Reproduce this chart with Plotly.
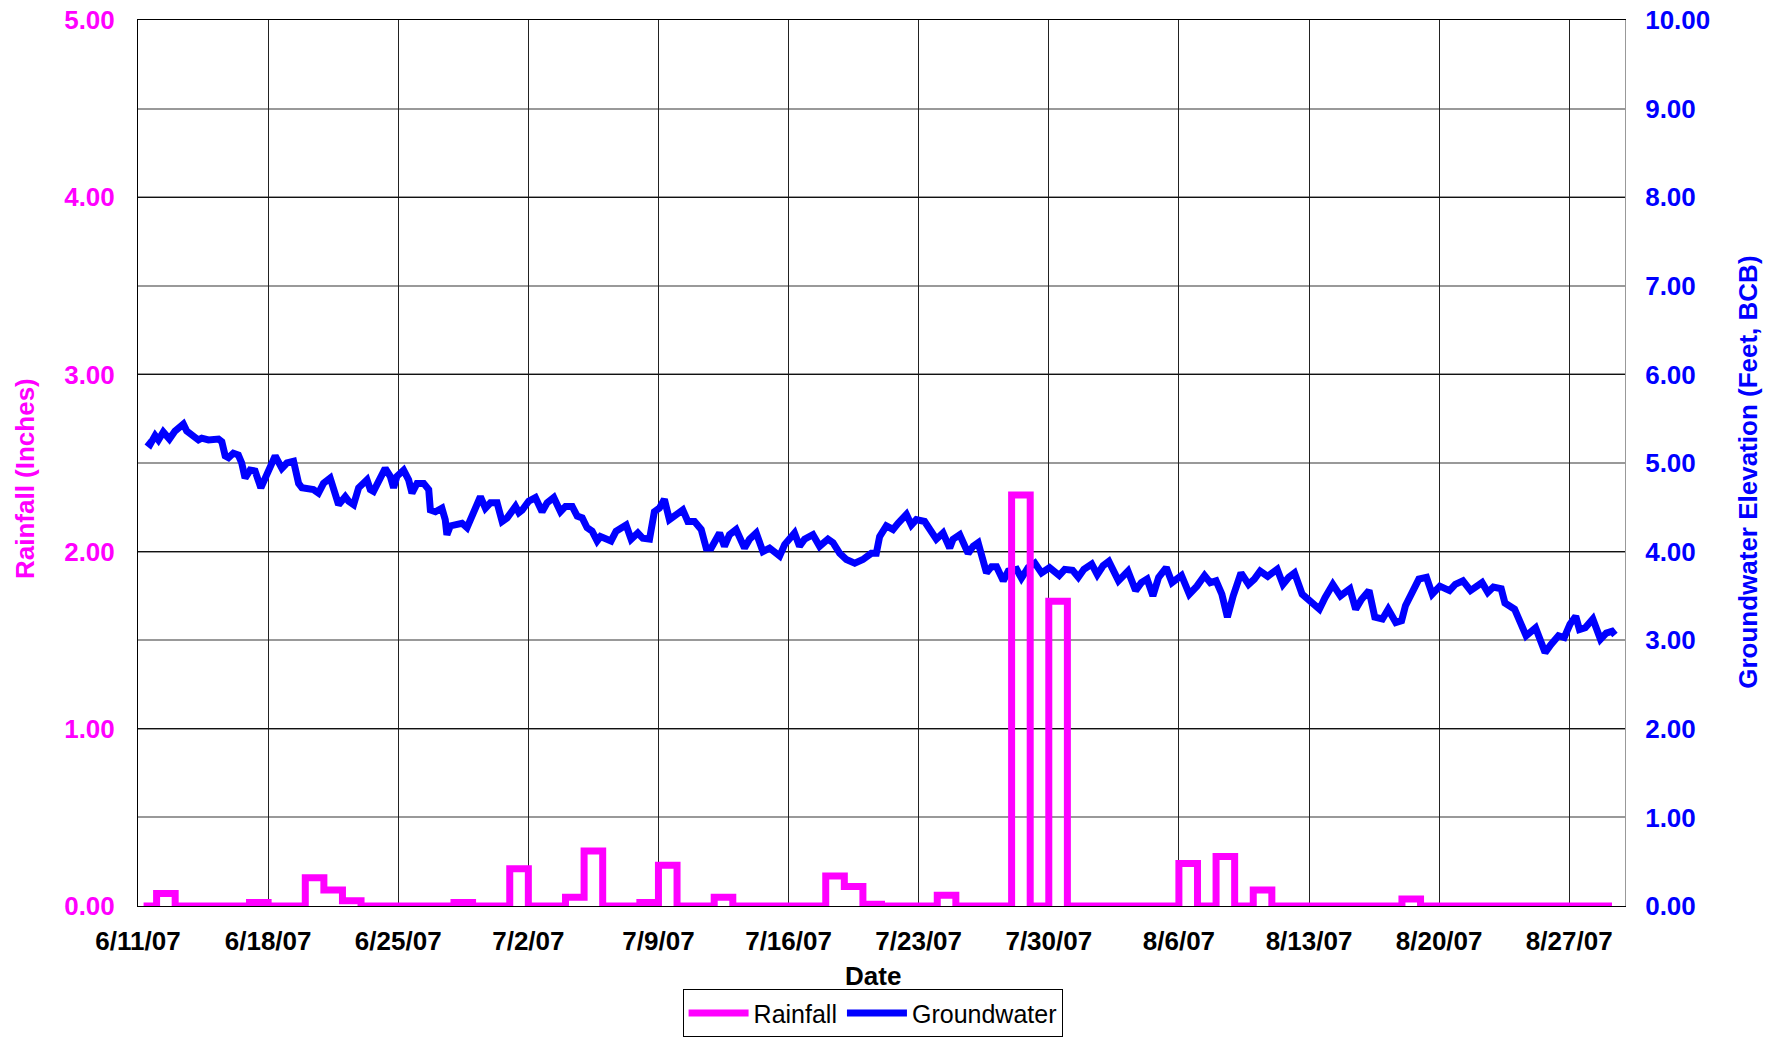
import pandas as pd
import plotly.graph_objects as go

start = pd.Timestamp("2007-06-11")

# Daily rainfall (inches), 6/11/07 .. 8/29/07
rain_in = [
    0.00, 0.07, 0.00, 0.00, 0.00, 0.00, 0.02, 0.00, 0.00, 0.16,
    0.09, 0.03, 0.00, 0.00, 0.00, 0.00, 0.00, 0.02, 0.00, 0.00,
    0.21, 0.00, 0.00, 0.05, 0.31, 0.00, 0.00, 0.02, 0.23, 0.00,
    0.00, 0.05, 0.00, 0.00, 0.00, 0.00, 0.00, 0.17, 0.11, 0.01,
    0.00, 0.00, 0.00, 0.06, 0.00, 0.00, 0.00, 2.32, 0.00, 1.72,
    0.00, 0.00, 0.00, 0.00, 0.00, 0.00, 0.24, 0.00, 0.28, 0.00,
    0.09, 0.00, 0.00, 0.00, 0.00, 0.00, 0.00, 0.00, 0.04, 0.00,
    0.00, 0.00, 0.00, 0.00, 0.00, 0.00, 0.00, 0.00, 0.00, 0.00,
]
rain_first_reading_days = 0.3
rain_last_reading_days = 79.3

# Groundwater elevation (feet, BCB): elapsed days since 6/11/07 and reading
gw_day = [
    0.47, 0.65, 0.92, 1.10, 1.36, 1.69, 1.99, 2.44, 2.62, 3.25, 3.43, 3.79, 4.33, 4.51,
    4.69, 4.87, 5.13, 5.40, 5.58, 5.76, 6.03, 6.30, 6.61, 7.02, 7.38, 7.74, 8.01, 8.37,
    8.64, 8.82, 9.17, 9.44, 9.71, 9.98, 10.34, 10.52, 10.79, 11.15, 11.33, 11.60, 11.87,
    12.32, 12.50, 12.67, 12.94, 13.30, 13.57, 13.75, 13.93, 14.29, 14.56, 14.74, 15.01,
    15.37, 15.64, 15.73, 16.00, 16.35, 16.53, 16.62, 16.80, 17.25, 17.43, 17.70, 17.88,
    18.24, 18.42, 18.69, 18.96, 19.32, 19.59, 19.86, 20.04, 20.31, 20.49, 20.67, 21.02,
    21.38, 21.74, 22.01, 22.37, 22.73, 23.00, 23.36, 23.63, 23.90, 24.16, 24.43, 24.70,
    24.88, 25.45, 25.72, 26.26, 26.53, 26.89, 27.16, 27.52, 27.78, 28.05, 28.32, 28.59,
    28.95, 29.31, 29.58, 29.94, 30.30, 30.57, 30.84, 31.02, 31.29, 31.55, 31.82, 32.18,
    32.63, 32.90, 33.26, 33.62, 33.98, 34.52, 34.79, 35.32, 35.59, 35.86, 36.31, 36.67,
    37.12, 37.39, 37.75, 38.11, 38.56, 39.00, 39.45, 39.72, 39.90, 40.26, 40.62, 40.89,
    41.34, 41.61, 41.87, 42.32, 42.69, 42.95, 43.31, 43.67, 43.85, 44.21, 44.66, 44.93,
    45.20, 45.47, 45.65, 45.92, 46.19, 46.55, 46.82, 47.27, 47.53, 47.89, 48.25, 48.61,
    49.04, 49.56, 49.86, 50.28, 50.59, 50.89, 51.31, 51.61, 51.92, 52.23, 52.54, 52.75,
    53.26, 53.67, 53.98, 54.29, 54.60, 54.91, 55.32, 55.63, 56.14, 56.56, 56.97, 57.38,
    57.69, 58.00, 58.31, 58.61, 58.92, 59.34, 59.75, 60.06, 60.37, 60.78, 61.29, 61.60,
    61.91, 62.22, 62.63, 63.14, 63.56, 63.86, 64.28, 64.69, 65.20, 65.51, 65.82, 66.23,
    66.54, 66.95, 67.26, 67.67, 67.98, 68.19, 68.50, 68.91, 69.32, 69.63, 70.04, 70.56,
    70.87, 71.28, 71.69, 72.31, 72.62, 72.92, 73.34, 73.54, 74.06, 74.37, 74.68, 75.19,
    75.39, 75.70, 76.01, 76.42, 76.73, 77.04, 77.35, 77.55, 77.86, 78.27, 78.68, 78.99,
    79.30, 79.46,
]
gw_ft = [
    5.24, 5.21, 5.31, 5.26, 5.35, 5.27, 5.36, 5.44, 5.36, 5.26, 5.28, 5.26, 5.27, 5.24,
    5.08, 5.06, 5.11, 5.09, 5.00, 4.83, 4.92, 4.91, 4.72, 4.92, 5.08, 4.94, 5.00, 5.02,
    4.77, 4.72, 4.70, 4.70, 4.66, 4.77, 4.83, 4.70, 4.53, 4.62, 4.57, 4.53, 4.72,
    4.81, 4.70, 4.68, 4.79, 4.94, 4.85, 4.72, 4.85, 4.92, 4.81, 4.66, 4.77,
    4.77, 4.70, 4.47, 4.45, 4.49, 4.36, 4.19, 4.29, 4.32, 4.32, 4.27, 4.36,
    4.57, 4.62, 4.49, 4.55, 4.55, 4.34, 4.38, 4.44, 4.51, 4.44, 4.47, 4.57,
    4.61, 4.45, 4.55, 4.61, 4.45, 4.51, 4.51, 4.40, 4.38, 4.27, 4.23, 4.12,
    4.17, 4.12, 4.23, 4.30, 4.14, 4.21, 4.15, 4.14, 4.45, 4.49, 4.59, 4.36,
    4.42, 4.47, 4.34, 4.34, 4.25, 4.04, 4.04, 4.10, 4.21, 4.06, 4.19, 4.25,
    4.04, 4.14, 4.21, 4.00, 4.04, 3.95, 4.08, 4.21, 4.06, 4.14, 4.19, 4.06,
    4.14, 4.10, 3.98, 3.91, 3.87, 3.91, 3.98, 3.98, 4.17, 4.29, 4.25, 4.32,
    4.42, 4.30, 4.36, 4.34, 4.21, 4.14, 4.21, 4.04, 4.14, 4.19, 3.98, 4.06,
    4.10, 3.87, 3.76, 3.83, 3.83, 3.67, 3.78, 3.80, 3.70, 3.82, 3.87, 3.76,
    3.82, 3.73, 3.80, 3.79, 3.71, 3.80, 3.86, 3.74, 3.84, 3.89, 3.76, 3.67,
    3.78, 3.56, 3.65, 3.69, 3.50, 3.71, 3.82, 3.65, 3.73, 3.52, 3.61, 3.73,
    3.65, 3.67, 3.52, 3.26, 3.50, 3.76, 3.63, 3.69, 3.78, 3.72, 3.80, 3.63,
    3.71, 3.76, 3.52, 3.44, 3.35, 3.48, 3.63, 3.50, 3.58, 3.35, 3.46, 3.56,
    3.26, 3.24, 3.35, 3.20, 3.22, 3.39, 3.54, 3.69, 3.71, 3.52, 3.61, 3.56,
    3.63, 3.67, 3.56, 3.65, 3.54, 3.60, 3.58, 3.42, 3.35, 3.20, 3.05, 3.14,
    3.01, 2.86, 2.95, 3.05, 3.03, 3.18, 3.27, 3.12, 3.14, 3.24, 3.01, 3.08,
    3.10, 3.06,
]

rain_ticks = [0, 1, 2, 3, 4, 5]
gw_ticks = [0, 1, 2, 3, 4, 5, 6, 7, 8, 9, 10]
x_range = ["2007-06-11", "2007-08-30"]

# build series (step line: one level per day)
rain_x = list(pd.date_range(start, periods=len(rain_in), freq="D"))
rain_x[0] = start + pd.to_timedelta(rain_first_reading_days, unit="D")
rain_y = list(rain_in)
rain_x.append(start + pd.to_timedelta(rain_last_reading_days, unit="D"))
rain_y.append(rain_in[-1])
gw_x = start + pd.to_timedelta(gw_day, unit="D")

FONT = "Liberation Sans, Arial, sans-serif"
MAG = "#FF00FF"
BLUE = "#0000FF"

fig = go.Figure()
fig.add_trace(go.Scatter(
    x=rain_x, y=rain_y, name="Rainfall", mode="lines", yaxis="y2",
    line=dict(color=MAG, width=7, shape="hv"),
))
fig.add_trace(go.Scatter(
    x=gw_x, y=gw_ft, name="Groundwater", mode="lines", yaxis="y",
    line=dict(color=BLUE, width=7),
))

fig.update_layout(
    width=1783, height=1037,
    margin=dict(l=138, r=158, t=20, b=131, autoexpand=False),
    paper_bgcolor="white", plot_bgcolor="white",
    font=dict(family=FONT, size=26, color="black"),
    showlegend=True,
    legend=dict(
        orientation="h", x=0.494, xanchor="center", y=-0.094, yanchor="top",
        bordercolor="black", borderwidth=1,
        font=dict(family=FONT, size=25, color="black"),
        itemwidth=60, tracegroupgap=0,
    ),
    xaxis=dict(
        type="date", range=x_range, tick0="2007-06-11", dtick=7 * 86400000,
        tickformat="%-m/%-d/%y", showgrid=True, gridcolor="#222222", gridwidth=1,
        showline=True, mirror=True, linecolor="black", linewidth=1,
        ticks="", ticklabelstandoff=12, zeroline=False, automargin=False,
        ticklabeloverflow="allow",
        tickfont=dict(family=FONT, size=26, color="black", weight="bold"),
    ),
    yaxis=dict(
        side="right", range=[0, 10], tickvals=gw_ticks, tickformat=".2f",
        showgrid=False, zeroline=False, showline=True, linecolor="#999999", linewidth=1,
        ticks="", ticklabelstandoff=14, automargin=False, ticklabeloverflow="allow",
        tickfont=dict(family=FONT, size=26, color=BLUE, weight="bold"),
    ),
    yaxis2=dict(
        side="left", overlaying="y", range=[0, 5], tickvals=rain_ticks, tickformat=".2f",
        showgrid=True, gridcolor="#111111", gridwidth=1, zeroline=False,
        minor=dict(dtick=0.5, showgrid=True, gridcolor="#999999", gridwidth=1.5),
        showline=True, linecolor="black", linewidth=1,
        ticks="", ticklabelstandoff=17, automargin=False, ticklabeloverflow="allow",
        tickfont=dict(family=FONT, size=26, color=MAG, weight="bold"),
    ),
    annotations=[
        dict(text="<b>Rainfall (Inches)</b>", xref="paper", yref="paper",
             x=-0.076, y=0.483, textangle=-90, showarrow=False,
             xanchor="center", yanchor="middle",
             font=dict(family=FONT, size=26, color=MAG)),
        dict(text="<b>Groundwater Elevation (Feet, BCB)</b>", xref="paper", yref="paper",
             x=1.0827, y=0.49, textangle=-90, showarrow=False,
             xanchor="center", yanchor="middle",
             font=dict(family=FONT, size=26, color=BLUE)),
        dict(text="<b>Date</b>", xref="paper", yref="paper",
             x=0.494, y=-0.079, showarrow=False,
             xanchor="center", yanchor="middle",
             font=dict(family=FONT, size=26, color="black")),
    ],
)

fig.write_html(
    "out.html",
    config={"displayModeBar": False},
    post_script="document.body.style.margin='0';document.body.style.overflow='hidden';",
)
